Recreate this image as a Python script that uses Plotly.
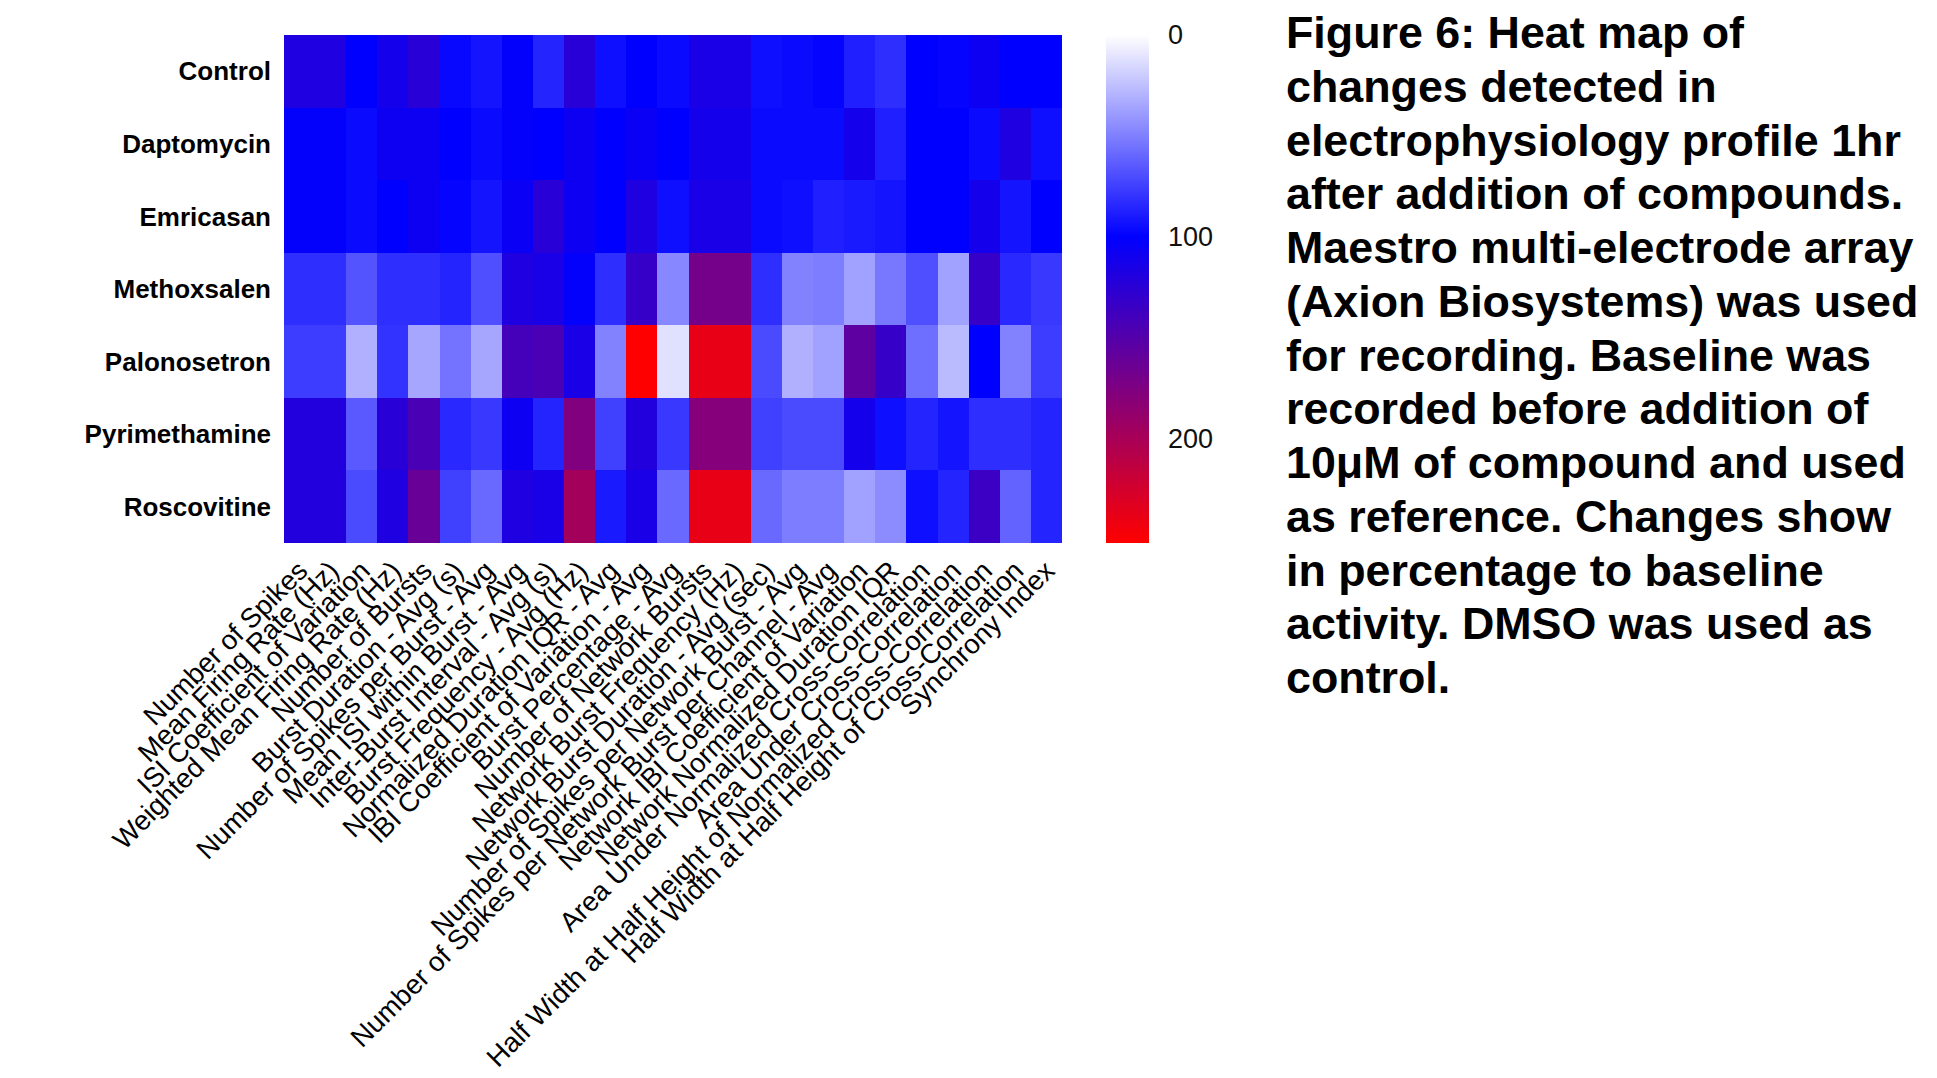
import plotly.graph_objects as go

compounds = ["Control", "Daptomycin", "Emricasan", "Methoxsalen",
             "Palonosetron", "Pyrimethamine", "Roscovitine"]

metrics = [
    "Number of Spikes",
    "Mean Firing Rate (Hz)",
    "ISI Coefficient of Variation",
    "Weighted Mean Firing Rate (Hz)",
    "Number of Bursts",
    "Burst Duration - Avg (s)",
    "Number of Spikes per Burst - Avg",
    "Mean ISI within Burst - Avg",
    "Inter-Burst Interval - Avg (s)",
    "Burst Frequency - Avg (Hz)",
    "Normalized Duration IQR - Avg",
    "IBI Coefficient of Variation - Avg",
    "Burst Percentage - Avg",
    "Number of Network Bursts",
    "Network Burst Frequency (Hz)",
    "Network Burst Duration - Avg (sec)",
    "Number of Spikes per Network Burst - Avg",
    "Number of Spikes per Network Burst per Channel - Avg",
    "Network IBI Coefficient of Variation",
    "Network Normalized Duration IQR",
    "Area Under Normalized Cross-Correlation",
    "Area Under Cross-Correlation",
    "Half Width at Half Height of Normalized Cross-Correlation",
    "Half Width at Half Height of Cross-Correlation",
    "Synchrony Index",
]

# percentage of baseline, one list per compound
control = [118, 118, 100, 112, 124, 97, 92, 102, 86, 124, 94, 100, 96,
           115, 115, 94, 96, 98, 88, 82, 100, 98, 108, 100, 100]
daptomycin = [102, 102, 96, 108, 108, 100, 96, 102, 100, 108, 100, 106, 100,
              112, 112, 96, 96, 96, 112, 88, 100, 100, 96, 118, 94]
emricasan = [102, 102, 96, 100, 108, 98, 92, 106, 124, 108, 100, 118, 94,
             115, 115, 96, 94, 88, 90, 92, 100, 100, 112, 92, 100]
methoxsalen = [82, 82, 67, 82, 82, 86, 69, 118, 115, 102, 82, 132, 47,
               170, 170, 82, 49, 51, 37, 53, 69, 37, 132, 84, 78]
palonosetron = [76, 76, 31, 80, 35, 55, 35, 141, 144, 115, 49, 252, 12,
                238, 238, 71, 31, 37, 156, 132, 57, 27, 100, 49, 76]
pyrimethamine = [120, 120, 65, 124, 144, 84, 78, 108, 86, 176, 75, 120, 78,
                 179, 179, 75, 71, 71, 112, 94, 86, 92, 82, 82, 86]
roscovitine = [120, 120, 71, 118, 162, 75, 59, 118, 115, 197, 90, 115, 59,
               238, 238, 59, 51, 51, 37, 45, 94, 86, 135, 61, 86]

values = [control, daptomycin, emricasan, methoxsalen,
          palonosetron, pyrimethamine, roscovitine]

colorbar_ticks = [0, 100, 200]
ZMAX = 252

caption_lines = [
    "Figure 6: Heat map of",
    "changes detected in",
    "electrophysiology profile 1hr",
    "after addition of compounds.",
    "Maestro multi-electrode array",
    "(Axion Biosystems) was used",
    "for recording. Baseline was",
    "recorded before addition of",
    "10μM of compound and used",
    "as reference. Changes show",
    "in percentage to baseline",
    "activity. DMSO was used as",
    "control.",
]

# ---- layout geometry (pixels) ----
W, H = 1937, 1078
PL, PR, PT, PB = 284, 1062, 35, 543

def px_x(x):
    return (x - PL) / (PR - PL)

def px_y(y):
    return (PB - y) / (PB - PT)

# colorbar runs 0 (top, white) -> 100 (blue) -> max (bottom, red);
# heatmap is drawn with negated values so the bar reads top-down.
neg = [[-v for v in row] for row in values]
blue_pos = (ZMAX - 100) / ZMAX
colorscale = [[0.0, "rgb(255,0,0)"], [blue_pos, "rgb(0,0,255)"], [1.0, "rgb(255,255,255)"]]

fig = go.Figure(go.Heatmap(
    z=neg,
    x=metrics,
    y=compounds,
    customdata=values,
    hovertemplate="%{y}<br>%{x}<br>%{customdata}<extra></extra>",
    zmin=-ZMAX, zmax=0,
    colorscale=colorscale,
    xgap=0, ygap=0,
    colorbar=dict(
        x=px_x(1106), xanchor="left", xpad=0,
        y=0.5, yanchor="middle", len=1.0, lenmode="fraction", ypad=0,
        thickness=43, thicknessmode="pixels",
        outlinewidth=0,
        tickvals=[-t for t in colorbar_ticks],
        ticktext=[str(t) for t in colorbar_ticks],
        ticks="outside", ticklen=14, tickcolor="rgba(0,0,0,0)",
        tickfont=dict(family="Liberation Sans, Arial", size=27, color="#111"),
    ),
))

annotations = []
y0, y1 = 32, 677
step = (y1 - y0) / (len(caption_lines) - 1)
for i, line in enumerate(caption_lines):
    annotations.append(dict(
        text=line, xref="paper", yref="paper",
        x=px_x(1284), y=px_y(y0 + i * step),
        xanchor="left", yanchor="middle", showarrow=False,
        font=dict(family="Liberation Sans, Arial", size=44.8, color="black", weight="bold"),
    ))

fig.update_layout(
    width=W, height=H,
    margin=dict(l=PL, r=W - PR, t=PT, b=H - PB, pad=0, autoexpand=False),
    paper_bgcolor="white", plot_bgcolor="white",
    annotations=annotations,
    xaxis=dict(
        tickmode="array", tickvals=metrics, ticktext=metrics,
        tickangle=-45, ticks="", showgrid=False, zeroline=False, showline=False,
        tickfont=dict(family="Liberation Sans, Arial", size=27.5, color="black"),
        ticklabelstandoff=5, automargin=False,
    ),
    yaxis=dict(
        autorange="reversed", ticks="", showgrid=False, zeroline=False, showline=False,
        tickfont=dict(family="Liberation Sans, Arial", size=26, color="black", weight="bold"),
        ticklabelstandoff=12, automargin=False,
    ),
)

fig.write_html("out.html")
